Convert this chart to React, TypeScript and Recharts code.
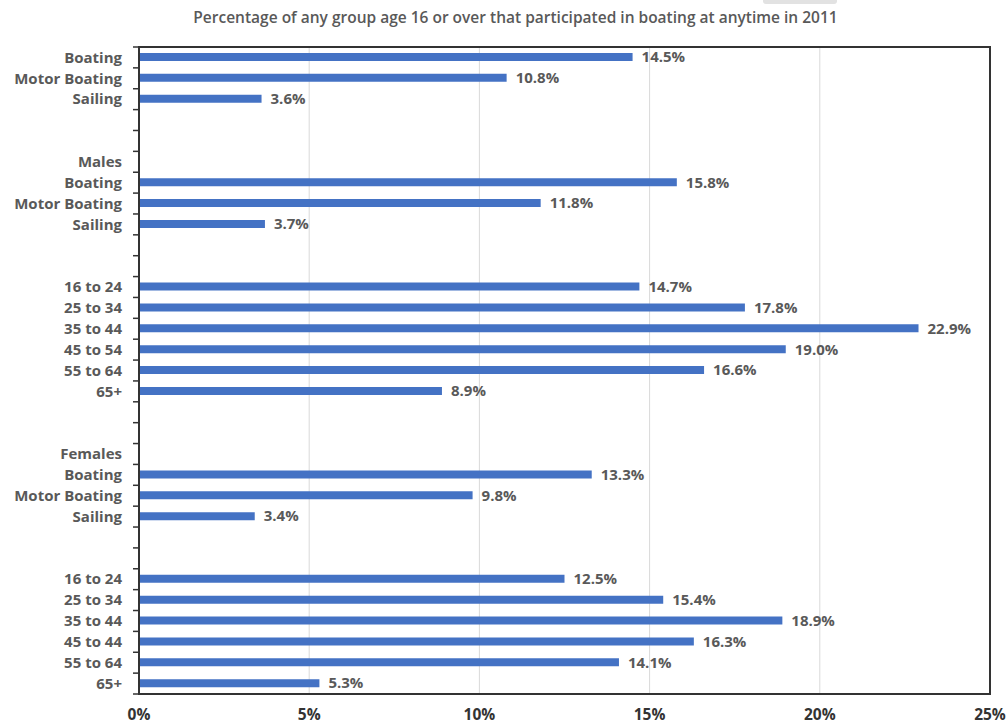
import { Bar, BarChart, CartesianGrid, LabelList, XAxis, YAxis } from "recharts";

const labels = [
  "Boating", "Motor Boating", "Sailing", "", "",
  "Males", "Boating", "Motor Boating", "Sailing", "", "",
  "16 to 24", "25 to 34", "35 to 44", "45 to 54", "55 to 64", "65+", "", "",
  "Females", "Boating", "Motor Boating", "Sailing", "", "",
  "16 to 24", "25 to 34", "35 to 44", "45 to 44", "55 to 64", "65+",
];

const values: (number | null)[] = [
  14.5, 10.8, 3.6, null, null,
  null, 15.8, 11.8, 3.7, null, null,
  14.7, 17.8, 22.9, 19.0, 16.6, 8.9, null, null,
  null, 13.3, 9.8, 3.4, null, null,
  12.5, 15.4, 18.9, 16.3, 14.1, 5.3,
];

const xTicks = [0, 5, 10, 15, 20, 25];

const W = 1008;
const H = 726;
const X_AXIS_H = 32;
const M = { top: 47, right: 18, bottom: 0, left: 0 };
const Y_AXIS_W = 139;
const FONT = "'Open Sans', sans-serif";
const FRAME = "#333333";
const FRAME_W = 2;
const plotW = W - M.left - M.right - Y_AXIS_W;
const plotH = H - M.top - M.bottom - X_AXIS_H;
const rowH = plotH / labels.length;

const data = labels.map((label, i) => ({ id: `r${i}`, label, value: values[i] }));

function RowTick(props: any) {
  const { x, y, payload, index } = props;
  const text = labels[Number(String(payload.value).slice(1))];
  return (
    <g>
      <line x1={x - 6} x2={x} y1={y - rowH / 2} y2={y - rowH / 2} stroke={FRAME} strokeWidth={1.5} />
      {index === labels.length - 1 && (
        <line x1={x - 6} x2={x} y1={y + rowH / 2} y2={y + rowH / 2} stroke={FRAME} strokeWidth={1.5} />
      )}
      <text
        x={x - 17}
        y={y}
        dy="0.35em"
        textAnchor="end"
        fill="#595959"
        fontSize={15}
        fontWeight={700}
        fontFamily={FONT}
      >
        {text}
      </text>
    </g>
  );
}

export default function App() {
  return (
    <div style={{ position: "absolute", left: 0, top: 0, width: W, height: H, background: "#fff" }}>
      <div
        style={{
          position: "absolute",
          left: 763,
          top: 0,
          width: 74,
          height: 4,
          background: "#e2e2e2",
          borderRadius: "0 0 3px 3px",
        }}
      />
      <div
        style={{
          position: "absolute",
          left: 0,
          top: 6,
          width: 1031,
          textAlign: "center",
          fontFamily: FONT,
          fontSize: 15.5,
          fontWeight: 600,
          color: "#595959",
          whiteSpace: "nowrap",
        }}
      >
        Percentage of any group age 16 or over that participated in boating at anytime in 2011
      </div>
      <BarChart width={W} height={H} data={data} layout="vertical" margin={M}>
        <CartesianGrid horizontal={false} stroke="#d9d9d9" />
        <XAxis
          type="number"
          domain={[0, 25]}
          ticks={xTicks}
          height={X_AXIS_H}
          tickFormatter={(v: number) => `${v}%`}
          axisLine={{ stroke: FRAME, strokeWidth: FRAME_W }}
          tickLine={false}
          tickMargin={9}
          tick={{ fill: "#333333", fontSize: 15.5, fontWeight: 700, fontFamily: FONT }}
          interval={0}
        />
        <YAxis
          type="category"
          dataKey="id"
          width={Y_AXIS_W}
          interval={0}
          tickSize={0}
          tickMargin={0}
          tickLine={false}
          axisLine={{ stroke: FRAME, strokeWidth: FRAME_W }}
          tick={<RowTick />}
        />
        <Bar dataKey="value" fill="#4472C4" barSize={8} isAnimationActive={false}>
          <LabelList
            dataKey="value"
            position="right"
            offset={9}
            formatter={(v: any) => (v == null ? "" : `${Number(v).toFixed(1)}%`)}
            fill="#595959"
            fontSize={15}
            fontWeight={700}
            fontFamily={FONT}
          />
        </Bar>
      </BarChart>
      {/* plot frame */}
      <div
        style={{
          position: "absolute",
          left: M.left + Y_AXIS_W - FRAME_W / 2,
          top: M.top - FRAME_W / 2,
          width: plotW + FRAME_W,
          height: plotH + FRAME_W,
          border: `${FRAME_W}px solid ${FRAME}`,
          boxSizing: "border-box",
          pointerEvents: "none",
        }}
      />
    </div>
  );
}
